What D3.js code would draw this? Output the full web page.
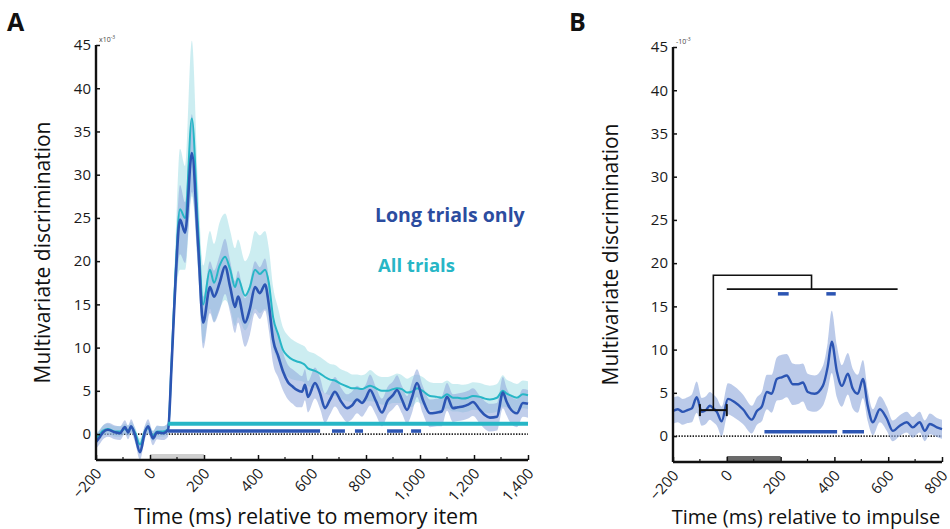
<!DOCTYPE html>
<html>
<head>
<meta charset="utf-8">
<script src="https://cdn.jsdelivr.net/npm/d3@7"></script>
<style>
  html, body { margin: 0; padding: 0; background: #fff; }
  svg text { font-family: "Open Sans", "Noto Sans", sans-serif; }
</style>
</head>
<body>
<svg id="chart" width="950" height="529"></svg>
<script>
// ---------- Panel A: decoding relative to memory item ----------
const timesA = [-200, -185, -174, -156, -130, -111, -93, -81, -70, -56, -37, -19, -7, 11, 26, 48, 67, 80, 95, 111,
  130, 155, 178, 197, 222, 237, 258, 278, 297, 315, 326, 352, 370, 389, 407, 426, 440, 456, 475, 493,
  511, 528, 544, 563, 574, 585, 611, 630, 648, 667, 685, 707, 730, 748, 767, 785, 800, 815, 837, 859,
  881, 900, 915, 933, 952, 970, 989, 1010, 1037, 1063, 1080, 1100, 1122, 1140, 1159, 1178, 1196, 1222, 1240, 1259,
  1285, 1307, 1320, 1333, 1359, 1381, 1400];

const longTrialsA = [-0.9, -0.3, 0.2, 0.5, 0.2, 0.1, 0.8, 0.2, 0.9, -0.1, -2.1, 0.2, 0.9, -0.5, 0.2, 0.1, 0.5, 8, 18, 24.8,
  23.3, 32.5, 22, 12.9, 17, 15.9, 17.5, 19.4, 17, 14.7, 15.9, 12.9, 14.5, 17, 16.3, 17.3, 15, 10.9, 9, 7.2,
  6, 5.5, 5.1, 4.9, 5.7, 4.3, 5.9, 4.7, 3, 4, 4.9, 3.8, 3, 3.3, 4, 3.6, 4.2, 5.1, 3.8, 2.5,
  3.9, 4.5, 5.1, 4, 2.8, 4.2, 5.9, 4, 2.4, 2.5, 2.6, 4.3, 3, 3.1, 3.2, 3.4, 3.7, 2.8, 2.2, 1.9,
  2, 4.8, 3.8, 3, 2.4, 3.6, 3.5];

const allTrialsA = [-0.5, 0, 0.4, 0.6, 0.3, 0.3, 0.6, 0.4, 0.8, 0.2, -1.2, 0.3, 0.7, -0.2, 0.3, 0.3, 0.6, 8.5, 19, 26,
  25, 36.5, 24, 15, 19, 17.5, 19.5, 20.5, 19, 17, 18, 16, 17, 19, 18.5, 19, 17.5, 13.5, 11.5, 9.7,
  9, 8.6, 8.4, 8.2, 8, 7.6, 7.3, 7, 6.6, 6.3, 6.2, 5.8, 5.5, 5.3, 5.3, 5.2, 5.4, 5.6, 5.3, 5,
  5, 5.2, 5.3, 5.2, 4.8, 4.9, 5.3, 5, 4.4, 4.3, 4.2, 4.6, 4.2, 4.2, 4.1, 4.2, 4.4, 4.3, 4.1, 4,
  4.2, 5, 4.7, 4.5, 4.2, 4.6, 4.5];

// standard error half-widths
const longErrA = [0.8, 0.8, 0.8, 0.8, 0.8, 0.8, 0.8, 0.8, 0.8, 0.8, 0.9, 0.8, 0.8, 0.8, 0.8, 0.8, 0.8, 1.5, 2.5, 4,
  3.5, 4.5, 3, 3, 3, 3, 3.2, 3.2, 3, 3, 3, 2.8, 3, 3, 3, 3, 3, 2.8, 2.5, 2.2,
  2, 2, 2, 1.8, 1.8, 1.8, 1.8, 1.8, 1.7, 1.7, 1.7, 1.6, 1.6, 1.6, 1.6, 1.6, 1.6, 1.8, 1.6, 1.6,
  1.6, 1.6, 1.7, 1.6, 1.6, 1.8, 1.6, 1.6, 1.6, 1.6, 1.7, 1.6, 1.6, 1.6, 1.6, 1.6, 1.6, 1.6, 1.6, 1.6,
  1.6, 1.8, 1.6, 1.6, 1.6, 1.6, 1.6];

const allErrA = [0.6, 0.6, 0.6, 0.6, 0.6, 0.6, 0.6, 0.6, 0.6, 0.6, 0.7, 0.6, 0.6, 0.6, 0.6, 0.6, 0.6, 2, 3.5, 7,
  6, 9, 5, 4.5, 4.5, 4.5, 5, 5, 4.5, 4.5, 4.5, 4, 4, 4.5, 4.5, 4.5, 4, 3.5, 3, 2.6,
  2.4, 2.3, 2.2, 2.1, 2.1, 2, 2, 1.9, 1.9, 1.8, 1.8, 1.7, 1.7, 1.6, 1.6, 1.6, 1.6, 1.8, 1.6, 1.6,
  1.6, 1.6, 1.7, 1.6, 1.6, 1.8, 1.6, 1.6, 1.6, 1.6, 1.7, 1.6, 1.6, 1.6, 1.6, 1.6, 1.6, 1.6, 1.6, 1.6,
  1.6, 1.8, 1.6, 1.6, 1.6, 1.6, 1.6];

// significant clusters (ms)
const sigAllA = [[67, 1400]];
const sigLongA = [[67, 630], [674, 722], [759, 789], [878, 937], [967, 1004]];
const stimA = [0, 200];

// ---------- Panel B: decoding relative to impulse ----------
const timesB = [-200, -182, -164, -146, -130, -112, -93, -78, -63, -50, -37, -19, 4, 30, 60, 93, 112, 130, 149, 167,
  186, 204, 223, 245, 265, 283, 301, 327, 357, 375, 390, 409, 428, 450, 468, 487, 506, 524, 543, 569,
  595, 617, 643, 669, 691, 717, 736, 755, 781, 800];
const impulseB = [2.9, 3.1, 2.8, 3, 3.2, 4.5, 2.8, 3, 3.5, 3.2, 2.8, 1.7, 4.3, 3.9, 3.1, 1.9, 2.9, 3.4, 5.1, 4.9,
  6.6, 6.8, 7, 6, 6, 6.2, 5.1, 4.9, 5.8, 8, 10.9, 7.5, 5.8, 7.2, 5.5, 4.9, 6.6, 3.5, 1.6, 3.1,
  2, 0.6, 1.2, 1.6, 1, 1.6, 0.6, 1.4, 1, 0.8];
const impulseErrB = [1.5, 1.5, 1.5, 1.5, 1.6, 1.8, 1.6, 1.6, 1.6, 1.6, 1.6, 1.7, 1.8, 1.8, 1.7, 1.6, 1.6, 1.7, 2, 2.2,
  2.5, 2.6, 2.5, 2.4, 2.3, 2.2, 2.1, 2.1, 2.3, 2.8, 3.6, 3, 2.4, 2.4, 2.3, 2.2, 2.2, 1.8, 1.5, 1.5,
  1.4, 1.2, 1.2, 1.2, 1.2, 1.2, 1.2, 1.2, 1.1, 1.1];
const sigB = [[140, 410], [430, 510]];
const sigCompareB = [[190, 230], [370, 405]];
const baselineB = [-100, 0];
const baselineLevelB = 3;
const compareLevelB = 17;
const bracketTopB = 18.6;
const bracketStemB = -50;
const bracketJoinB = 315;
const compareSpanB = [0, 635];
const stimB = [0, 200];

// ---------- shared ----------
const yTicks = [0, 5, 10, 15, 20, 25, 30, 35, 40, 45];
const xTicksA = [-200, 0, 200, 400, 600, 800, 1000, 1200, 1400];
const xMinorA = [-100, 100, 300, 500, 700, 900, 1100, 1300];
const xTicksB = [-200, 0, 200, 400, 600, 800];
const xMinorB = [-100, 100, 300, 500, 700];

const C_LONG = "#2c55b3";
const C_LONG_TEXT = "#2b4c9f";
const C_LONG_BAND = "#8ea6da";
const C_ALL = "#27b6c6";
const C_ALL_BAND = "#8fd7e0";

const svg = d3.select("#chart");
const fmt = d3.format(",");

function panel(opts) {
  const g = svg.append("g");
  const x = d3.scaleLinear().domain(opts.xDomain).range(opts.xRange);
  const y = d3.scaleLinear().domain([-3, 45]).range(opts.yRange);

  // stimulus bar on the time axis
  g.append("rect")
    .attr("x", x(opts.stim[0])).attr("width", x(opts.stim[1]) - x(opts.stim[0]))
    .attr("y", y(-3) - 6).attr("height", 5)
    .attr("fill", opts.stimColor);

  // zero line
  g.append("line")
    .attr("x1", x(opts.xDomain[0])).attr("x2", x(opts.xDomain[1]))
    .attr("y1", y(0)).attr("y2", y(0))
    .attr("stroke", "#222").attr("stroke-width", 1.8)
    .attr("stroke-dasharray", "1.4,1.4");

  const area = (ts, vs, es) => d3.area()
    .x((d, i) => x(ts[i]))
    .y0((d, i) => y(vs[i] - es[i]))
    .y1((d, i) => y(vs[i] + es[i]))
    .curve(d3.curveMonotoneX)(vs);
  const line = (ts, vs) => d3.line()
    .x((d, i) => x(ts[i]))
    .y(d => y(d))
    .curve(d3.curveMonotoneX)(vs);

  opts.series.forEach(s => {
    g.append("path").attr("d", area(s.t, s.v, s.e))
      .attr("fill", s.band).attr("opacity", s.bandOpacity);
  });
  opts.series.forEach(s => {
    g.append("path").attr("d", line(s.t, s.v))
      .attr("fill", "none").attr("stroke", s.color)
      .attr("stroke-width", s.width).attr("stroke-linejoin", "round");
  });

  // significance bars
  opts.sig.forEach(s => {
    s.spans.forEach(sp => {
      g.append("line")
        .attr("x1", x(sp[0])).attr("x2", x(sp[1]))
        .attr("y1", y(s.level)).attr("y2", y(s.level))
        .attr("stroke", s.color).attr("stroke-width", s.width);
    });
  });

  // axes
  const yAxis = d3.axisRight(y).tickValues(yTicks).tickSize(4).tickFormat(d3.format("d"));
  const ya = g.append("g").attr("transform", `translate(${opts.xRange[0]},0)`).call(yAxis);
  ya.select(".domain").attr("stroke", "#111").attr("stroke-width", 2.4)
    .attr("d", `M0,${y(-3)}V${y(45)}`);
  ya.selectAll(".tick line").attr("stroke", "#111").attr("stroke-width", 1.5);
  ya.selectAll(".tick text")
    .attr("x", -5).attr("text-anchor", "end")
    .attr("font-size", 15).attr("fill", "#1a1a1a");

  const xAxis = d3.axisTop(x).tickValues(opts.xTicks).tickSize(5).tickFormat(fmt);
  const xa = g.append("g").attr("transform", `translate(0,${y(-3)})`).call(xAxis);
  xa.select(".domain").attr("stroke", "#111").attr("stroke-width", 2.4)
    .attr("d", `M${opts.xRange[0]},0H${opts.xRange[1]}`);
  xa.selectAll(".tick line").attr("stroke", "#111").attr("stroke-width", 1.5);
  xa.selectAll(".tick text")
    .attr("y", 0).attr("dy", 0)
    .attr("transform", "translate(6,14) rotate(-48)")
    .attr("text-anchor", "end")
    .attr("font-size", 15).attr("fill", "#1a1a1a");
  opts.xMinor.forEach(t => {
    xa.append("line").attr("x1", x(t)).attr("x2", x(t)).attr("y1", 0).attr("y2", -3)
      .attr("stroke", "#111").attr("stroke-width", 1.2);
  });

  // exponent note
  const ex = g.append("text")
    .attr("x", opts.xRange[0] + 3).attr("y", y(45) - 3)
    .attr("font-size", 7).attr("fill", "#444");
  ex.append("tspan").text(opts.expPrefix);
  ex.append("tspan").attr("dy", -3).attr("font-size", 5).text("-3");

  // titles
  g.append("text")
    .attr("transform", `translate(${opts.yTitleX},${(y(-3) + y(45)) / 2}) rotate(-90)`)
    .attr("text-anchor", "middle").attr("font-size", 21).attr("fill", "#111")
    .text("Multivariate discrimination");
  g.append("text")
    .attr("x", opts.xTitleX).attr("y", 524)
    .attr("text-anchor", "middle").attr("font-size", opts.xTitleSize).attr("fill", "#111")
    .text(opts.xTitle);
  g.append("text")
    .attr("x", opts.letterX).attr("y", 31)
    .attr("font-size", 25).attr("font-weight", "bold").attr("fill", "#111")
    .text(opts.letter);

  return { g, x, y };
}

// Panel A
const A = panel({
  xDomain: [-200, 1400], xRange: [96, 528], yRange: [460, 45],
  xTicks: xTicksA, xMinor: xMinorA,
  stim: stimA, stimColor: "#cfcfcf",
  series: [
    { t: timesA, v: allTrialsA, e: allErrA, color: C_ALL, band: C_ALL_BAND, bandOpacity: 0.45, width: 2 },
    { t: timesA, v: longTrialsA, e: longErrA, color: C_LONG, band: C_LONG_BAND, bandOpacity: 0.55, width: 2.6 }
  ],
  sig: [
    { spans: sigAllA, level: 1.2, color: C_ALL, width: 4 },
    { spans: sigLongA, level: 0.35, color: C_LONG, width: 3.5 }
  ],
  expPrefix: "x10", yTitleX: 50, xTitle: "Time (ms) relative to memory item", xTitleX: 306, xTitleSize: 21.5,
  letter: "A", letterX: 7
});

// legend labels
A.g.append("text").attr("x", 375).attr("y", 222)
  .attr("font-size", 19.5).attr("font-weight", "bold").attr("fill", C_LONG_TEXT)
  .text("Long trials only");
A.g.append("text").attr("x", 378).attr("y", 272)
  .attr("font-size", 18.5).attr("font-weight", "bold").attr("fill", C_ALL)
  .text("All trials");

// Panel B
const B = panel({
  xDomain: [-200, 800], xRange: [673, 942], yRange: [462, 47],
  xTicks: xTicksB, xMinor: xMinorB,
  stim: stimB, stimColor: "#6a6a6a",
  series: [
    { t: timesB, v: impulseB, e: impulseErrB, color: C_LONG, band: C_LONG_BAND, bandOpacity: 0.6, width: 2.4 }
  ],
  sig: [
    { spans: sigB, level: 0.5, color: C_LONG, width: 3.5 },
    { spans: sigCompareB, level: compareLevelB - 0.55, color: C_LONG, width: 3.5 }
  ],
  expPrefix: "-10", yTitleX: 618, xTitle: "Time (ms) relative to impulse", xTitleX: 806, xTitleSize: 20,
  letter: "B", letterX: 569
});

// comparison bracket: baseline window vs. later time course
{
  const { g, x, y } = B;
  const k = "#111";
  g.append("line").attr("x1", x(baselineB[0])).attr("x2", x(baselineB[1]))
    .attr("y1", y(baselineLevelB)).attr("y2", y(baselineLevelB))
    .attr("stroke", k).attr("stroke-width", 2);
  baselineB.forEach(t => {
    g.append("line").attr("x1", x(t)).attr("x2", x(t))
      .attr("y1", y(baselineLevelB) - 6).attr("y2", y(baselineLevelB) + 6)
      .attr("stroke", k).attr("stroke-width", 2);
  });
  g.append("path")
    .attr("d", `M${x(bracketStemB)},${y(baselineLevelB)}V${y(bracketTopB)}H${x(bracketJoinB)}V${y(compareLevelB)}`)
    .attr("fill", "none").attr("stroke", k).attr("stroke-width", 1.6);
  g.append("line").attr("x1", x(compareSpanB[0])).attr("x2", x(compareSpanB[1]))
    .attr("y1", y(compareLevelB)).attr("y2", y(compareLevelB))
    .attr("stroke", k).attr("stroke-width", 1.6);
}
</script>
</body>
</html>
